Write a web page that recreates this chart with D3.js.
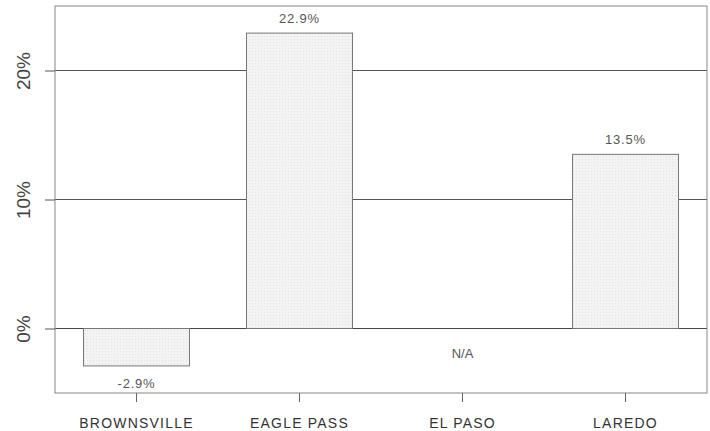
<!DOCTYPE html>
<html>
<head>
<meta charset="utf-8">
<script src="https://cdn.jsdelivr.net/npm/d3@7"></script>
<style>
  body { margin: 0; background: #fff; }
</style>
</head>
<body>
<script>
// Chart data
const categories = ["BROWNSVILLE", "EAGLE PASS", "EL PASO", "LAREDO"];
const values = [-2.9, 22.9, null, 13.5];
const yTicks = [0, 10, 20];

const width = 710;
const height = 431;
const marginTop = 6;
const marginRight = 3;
const marginBottom = 38;
const marginLeft = 55;

const x = d3.scaleBand()
  .domain(categories)
  .range([marginLeft, width - marginRight])
  .paddingInner(0.35)
  .paddingOuter(0.175);

const y = d3.scaleLinear()
  .domain([-5, 25])
  .range([height - marginBottom, marginTop]);

const svg = d3.select("body").append("svg")
  .attr("width", width)
  .attr("height", height)
  .attr("viewBox", [0, 0, width, height])
  .attr("style", "font-family: 'Liberation Sans', Arial, sans-serif;");

// light dotted fill like the scanned original
const defs = svg.append("defs");
const pat = defs.append("pattern")
  .attr("id", "dots")
  .attr("width", 3).attr("height", 3)
  .attr("patternUnits", "userSpaceOnUse");
pat.append("rect").attr("width", 3).attr("height", 3).attr("fill", "#f3f3f3");
pat.append("rect").attr("width", 1).attr("height", 1).attr("fill", "#e3e3e3");

// gridlines
svg.append("g")
  .selectAll("line")
  .data(yTicks)
  .join("line")
  .attr("x1", marginLeft)
  .attr("x2", width - marginRight)
  .attr("y1", d => y(d))
  .attr("y2", d => y(d))
  .attr("stroke", d => d === 0 ? "#444" : "#555")
  .attr("stroke-width", 1);

// bars
const present = categories.map((c, i) => ({label: c, value: values[i]})).filter(d => d.value != null);

svg.append("g")
  .selectAll("rect")
  .data(present)
  .join("rect")
  .attr("x", d => x(d.label))
  .attr("y", d => y(Math.max(0, d.value)))
  .attr("width", x.bandwidth())
  .attr("height", d => Math.abs(y(d.value) - y(0)))
  .attr("fill", "url(#dots)")
  .attr("stroke", "#777")
  .attr("stroke-width", 1);

// value labels
svg.append("g")
  .attr("font-size", 13)
  .attr("fill", "#555")
  .attr("text-anchor", "middle")
  .selectAll("text")
  .data(present)
  .join("text")
  .attr("x", d => x(d.label) + x.bandwidth() / 2)
  .attr("y", d => d.value >= 0 ? y(d.value) - 10 : y(d.value) + 22)
  .attr("letter-spacing", 0.8)
  .text(d => d.value.toFixed(1) + "%");

// N/A label for missing values
svg.append("g")
  .attr("font-size", 13)
  .attr("fill", "#555")
  .attr("text-anchor", "middle")
  .selectAll("text")
  .data(categories.filter((c, i) => values[i] == null))
  .join("text")
  .attr("x", d => x(d) + x.bandwidth() / 2)
  .attr("y", y(-2) + 4)
  .text("N/A");

// frame
svg.append("rect")
  .attr("x", marginLeft)
  .attr("y", marginTop)
  .attr("width", width - marginRight - marginLeft)
  .attr("height", height - marginBottom - marginTop)
  .attr("fill", "none")
  .attr("stroke", "#888")
  .attr("stroke-width", 1);

// y axis
const yAxis = svg.append("g")
  .attr("transform", `translate(${marginLeft},0)`)
  .call(d3.axisLeft(y).tickValues(yTicks).tickSize(10).tickFormat(d => d + "%"))
  .call(g => g.select(".domain").remove());
yAxis.selectAll(".tick line").attr("stroke", "#555");
yAxis.selectAll(".tick text")
  .attr("fill", "#444")
  .attr("font-size", 19)
  .attr("font-family", "'Liberation Sans', Arial, sans-serif")
  .attr("text-anchor", "middle")
  .attr("x", null)
  .attr("dy", null)
  .attr("transform", "translate(-30,0) rotate(-90)")
  .attr("dominant-baseline", "middle");

// x axis
const xAxis = svg.append("g")
  .attr("transform", `translate(0,${height - marginBottom})`)
  .call(d3.axisBottom(x).tickSize(9).tickPadding(16))
  .call(g => g.select(".domain").remove());
xAxis.selectAll(".tick line").attr("stroke", "#666");
xAxis.selectAll(".tick text")
  .attr("fill", "#333")
  .attr("font-size", 14)
  .attr("letter-spacing", 1.2)
  .attr("font-family", "'Liberation Sans', Arial, sans-serif");
</script>
</body>
</html>
